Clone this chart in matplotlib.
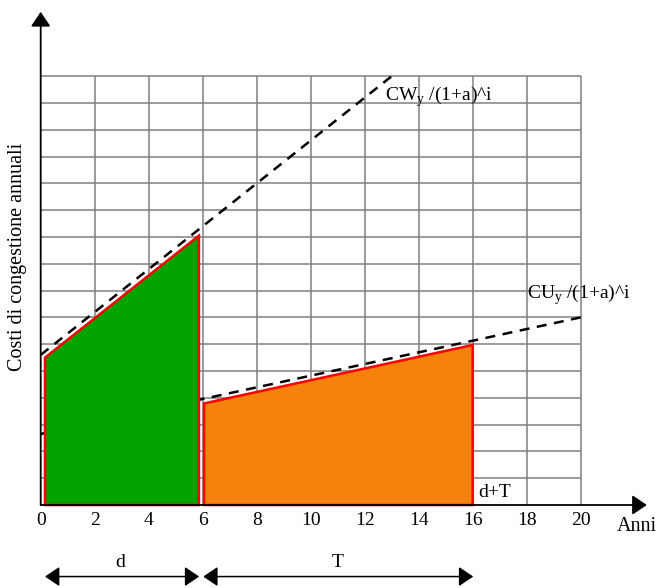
import matplotlib
matplotlib.use("Agg")
import matplotlib.pyplot as plt

plt.rcParams['font.family'] = ['Liberation Serif', 'DejaVu Serif']
plt.rcParams['mathtext.fontset'] = 'custom'
plt.rcParams['mathtext.rm'] = 'Liberation Serif'

# data (x in years, y in grid rows)
x_ticks = [0, 2, 4, 6, 8, 10, 12, 14, 16, 18, 20]
green_x = [0.16, 0.16, 5.86, 5.86]
green_y = [0, 5.5, 10.05, 0]
orange_x = [6.05, 6.05, 16.0, 16.0]
orange_y = [0, 3.79, 5.97, 0]
cw_x = [0, 13.0]
cw_y = [5.6, 16.0]
cu_x = [0, 20]
cu_y = [2.65, 7.0]
grid_rows = list(range(1, 17))
grid_cols = list(range(2, 21, 2))

fig = plt.figure(figsize=(6.57, 5.88), dpi=100)
ax = fig.add_axes([0, 0, 1, 1])
ax.set_xlim(-40.7 / 27, (657 - 40.7) / 27)
ax.set_ylim(-(588 - 505) / 26.8, 505 / 26.8)
ax.axis('off')

# grid
ax.hlines(grid_rows, 0, 20, color='#808080', lw=1.1, zorder=1)
ax.vlines(grid_cols, 0, 16, color='#808080', lw=1.1, zorder=1)

# dashed lines
ax.plot(cu_x, cu_y, color='k', lw=1.8, dashes=(4, 3), zorder=2)
ax.plot(cw_x, cw_y, color='k', lw=1.8, dashes=(4, 3), zorder=2)

# areas
ax.fill(green_x, green_y, facecolor='#00a300', edgecolor='#ff0000', lw=1.8, zorder=3)
ax.fill(orange_x, orange_y, facecolor='#f5820c', edgecolor='#ff0000', lw=1.8, zorder=3)

# axes with arrows
head = '-|>,head_length=0.4,head_width=0.27'
ax.annotate('', xy=(0, 18.4), xytext=(0, 0),
            arrowprops=dict(arrowstyle=head, mutation_scale=22, color='k', lw=1.3,
                            shrinkA=0, shrinkB=0), zorder=5)
ax.annotate('', xy=(22.45, 0), xytext=(0, 0),
            arrowprops=dict(arrowstyle=head, mutation_scale=22, color='k', lw=1.3,
                            shrinkA=0, shrinkB=0), zorder=5)

fs = 14
for t in x_ticks:
    ax.text(t, -0.56, str(t), ha='center', va='center', fontsize=fs)

ax.text(22.07, -0.82, 'Anni', ha='center', va='center', fontsize=14.5)
ax.text(-0.85, 9.27, 'Costi di congestione annuali', rotation=90,
        ha='center', va='center', fontsize=14.5)

ax.text(12.75, 15.24, r'CW$_{\mathregular{y}}$ /(1+a)^i', ha='left', va='center', fontsize=fs)
ax.text(18.0, 7.84, r'CU$_{\mathregular{y}}$ /(1+a)^i', ha='left', va='center', fontsize=fs)
ax.text(16.2, 0.45, 'd+T', ha='left', va='center', fontsize=fs)

# d and T spans
dbl = '<|-|>,head_length=0.4,head_width=0.27'
ax.annotate('', xy=(5.87, -2.67), xytext=(0.16, -2.67),
            arrowprops=dict(arrowstyle=dbl, mutation_scale=22, color='k', lw=1.1,
                            shrinkA=0, shrinkB=0))
ax.annotate('', xy=(16.02, -2.67), xytext=(6.02, -2.67),
            arrowprops=dict(arrowstyle=dbl, mutation_scale=22, color='k', lw=1.1,
                            shrinkA=0, shrinkB=0))
ax.text(2.94, -2.16, 'd', ha='center', va='center', fontsize=fs)
ax.text(11.0, -2.16, 'T', ha='center', va='center', fontsize=fs)

fig.savefig('out.png', dpi=100)
